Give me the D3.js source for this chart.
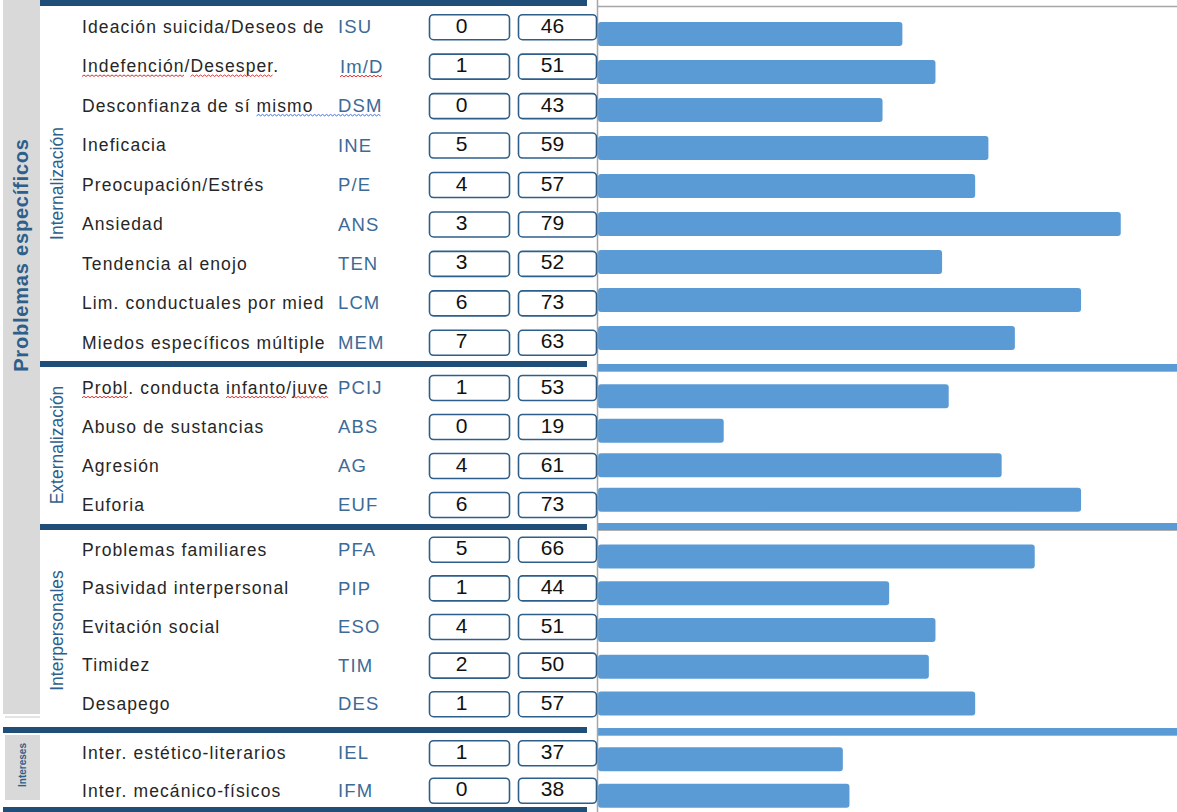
<!DOCTYPE html>
<html>
<head>
<meta charset="utf-8">
<script src="https://cdn.jsdelivr.net/npm/d3@7"></script>
<style>
  body { margin: 0; background: #fff; }
  svg { display: block; }
</style>
</head>
<body>
<script>
'use strict';

// ---- data ----
const groupNames = ["Internalización", "Externalización", "Interpersonales", "Intereses"];
const labels = [
  "Ideación suicida/Deseos de", "Indefención/Desesper.", "Desconfianza de sí mismo",
  "Ineficacia", "Preocupación/Estrés", "Ansiedad", "Tendencia al enojo",
  "Lim. conductuales por mied", "Miedos específicos múltiple",
  "Probl. conducta infanto/juve", "Abuso de sustancias", "Agresión", "Euforia",
  "Problemas familiares", "Pasividad interpersonal", "Evitación social", "Timidez", "Desapego",
  "Inter. estético-literarios", "Inter. mecánico-físicos"
];
const codes = ["ISU", "Im/D", "DSM", "INE", "P/E", "ANS", "TEN", "LCM", "MEM",
  "PCIJ", "ABS", "AG", "EUF", "PFA", "PIP", "ESO", "TIM", "DES", "IEL", "IFM"];
const groupOf = [0, 0, 0, 0, 0, 0, 0, 0, 0, 1, 1, 1, 1, 2, 2, 2, 2, 2, 3, 3];
const rawScores = [0, 1, 0, 5, 4, 3, 3, 6, 7, 1, 0, 4, 6, 5, 1, 4, 2, 1, 1, 0];
const tScores = [46, 51, 43, 59, 57, 79, 52, 73, 63, 53, 19, 61, 73, 66, 44, 51, 50, 57, 37, 38];

// ---- layout ----
const W = 1177, H = 812;
const darkBlue = "#1f4e79", barBlue = "#5b9bd5", codeBlue = "#3d6a96";
const labelTop = [6, 367, 529, 733], labelBottom = [361, 523, 722, 808];
const barTop = [15, 379, 538, 741], barBottom = [357, 517, 722, 814];
const sepY = [0, 361, 524, 727, 807];   // dark separator bars, left table
const bandY = [364, 523, 728];          // light separators, bar area
const x0 = 598;

const rows = labels.map((l, i) => ({
  label: l, code: codes[i], group: groupOf[i], raw: rawScores[i], t: tScores[i]
}));

const svg = d3.select('body').append('svg')
  .attr('width', W).attr('height', H);

// one band scale per group for the table and one for the bars
const yLab = groupNames.map((g, gi) => d3.scaleBand()
  .domain(rows.filter(r => r.group === gi).map(r => r.code))
  .range([labelTop[gi], labelBottom[gi]]));
const yBar = groupNames.map((g, gi) => d3.scaleBand()
  .domain(rows.filter(r => r.group === gi).map(r => r.code))
  .range([barTop[gi], barBottom[gi]]));
const cy = r => yLab[r.group](r.code) + yLab[r.group].bandwidth() / 2;
const by = r => yBar[r.group](r.code) + yBar[r.group].bandwidth() / 2;

const x = d3.scaleLinear().domain([0, 87.5]).range([x0, W]);

// grey side columns
svg.append('rect').attr('x', 3).attr('y', 0).attr('width', 37).attr('height', 714)
  .attr('fill', '#d9d9d9');
svg.append('line').attr('x1', 5).attr('x2', 40).attr('y1', 717).attr('y2', 717)
  .attr('stroke', '#c8c8c8');
svg.append('rect').attr('x', 5).attr('y', 735).attr('width', 35).attr('height', 65)
  .attr('fill', '#d9d9d9');

svg.append('text')
  .attr('transform', 'translate(28,255)rotate(-90)')
  .attr('text-anchor', 'middle')
  .style('font', 'bold 20px "Liberation Sans", Arial, sans-serif')
  .style('letter-spacing', '0.8px')
  .attr('fill', '#2e5f8a')
  .text('Problemas específicos');

svg.append('text')
  .attr('transform', 'translate(25.5,765)rotate(-90)')
  .attr('text-anchor', 'middle')
  .style('font', 'bold 10px "Liberation Sans", Arial, sans-serif')
  .attr('fill', '#2e5f8a')
  .text('Intereses');

// group titles (vertical)
groupNames.slice(0, 3).forEach((g, gi) => {
  const mid = (labelTop[gi] + labelBottom[gi]) / 2;
  svg.append('text')
    .attr('transform', `translate(63,${mid + (gi === 2 ? 5 : 0)})rotate(-90)`)
    .attr('text-anchor', 'middle')
    .style('font', '17.5px "Liberation Sans Narrow", "Arial Narrow", sans-serif')
    .attr('fill', '#2e5f8a')
    .text(g);
});

// dark separators on the left
sepY.forEach((y, i) => {
  const left = i < 3 ? 40 : 3;
  svg.append('rect').attr('x', left).attr('y', y).attr('width', 587 - left)
    .attr('height', i === 4 ? 5 : 6).attr('fill', darkBlue);
});

// bar-area frame lines
svg.append('line').attr('x1', x0).attr('x2', W).attr('y1', 6.5).attr('y2', 6.5)
  .attr('stroke', '#a6a6a6').attr('stroke-width', 1.5);
bandY.forEach(y => {
  svg.append('rect').attr('x', x0).attr('y', y).attr('width', W - x0).attr('height', 7)
    .attr('fill', barBlue);
  svg.append('line').attr('x1', x0).attr('x2', W).attr('y1', y + 7.5).attr('y2', y + 7.5)
    .attr('stroke', '#b0b0b0').attr('stroke-width', 1);
});

// bars
svg.selectAll('.bar').data(rows).enter().append('rect')
  .attr('class', 'bar')
  .attr('x', x(0))
  .attr('y', d => by(d) - 12)
  .attr('width', d => x(d.t) - x(0))
  .attr('height', 24)
  .attr('rx', 3)
  .attr('fill', barBlue);

// vertical axis line
svg.append('line').attr('x1', x0 - 0.5).attr('x2', x0 - 0.5).attr('y1', 0).attr('y2', H)
  .attr('stroke', '#a6a6a6').attr('stroke-width', 1.5);

// labels and codes
const labelText = svg.selectAll('.lab').data(rows).enter().append('text')
  .attr('class', 'lab')
  .attr('x', 82).attr('y', d => cy(d) + 1).attr('dy', '0.36em')
  .style('font', '17.5px "Liberation Sans", Arial, sans-serif')
  .style('letter-spacing', '1.1px')
  .attr('fill', '#262626')
  .text(d => d.label);

const codeText = svg.selectAll('.code').data(rows).enter().append('text')
  .attr('class', 'code')
  .attr('x', d => d.code === 'Im/D' ? 340 : 338).attr('y', d => cy(d) + 1).attr('dy', '0.36em')
  .style('font', '18.5px "Liberation Sans", Arial, sans-serif')
  .style('letter-spacing', '1.1px')
  .attr('fill', codeBlue)
  .text(d => d.code);

// score boxes
const boxes = [{ key: 'raw', x: 429.5, w: 80, shift: -8 }, { key: 't', x: 518.5, w: 78, shift: -5 }];
boxes.forEach(b => {
  svg.selectAll('.box-' + b.key).data(rows).enter().append('rect')
    .attr('x', b.x).attr('y', d => cy(d) - 11).attr('width', b.w).attr('height', 25)
    .attr('rx', 4)
    .attr('fill', '#fff').attr('stroke', '#2e5f8a').attr('stroke-width', 1.6);
  svg.selectAll('.num-' + b.key).data(rows).enter().append('text')
    .attr('x', b.x + b.w / 2 + b.shift).attr('y', d => cy(d) - 0.5).attr('dy', '0.36em')
    .attr('text-anchor', 'middle')
    .style('font', '21px "Liberation Sans", Arial, sans-serif')
    .attr('fill', '#111')
    .text(d => d[b.key]);
});

// spell-check squiggles, as in the screenshot
function squiggle(x1, x2, y, color) {
  let p = `M${x1},${y}`;
  let up = true;
  for (let xx = x1 + 2; xx <= x2; xx += 2) {
    p += `L${xx},${y + (up ? -1.5 : 0)}`;
    up = !up;
  }
  svg.append('path').attr('d', p).attr('fill', 'none')
    .attr('stroke', color).attr('stroke-width', 1);
}
function spanOf(node, word) {
  const s = node.textContent.indexOf(word);
  const bb = node.getBBox();
  const a = node.getStartPositionOfChar(s).x;
  const e = node.getEndPositionOfChar(s + word.length - 1).x;
  return [a, e, bb.y + bb.height];
}
const marks = [
  { i: 1, words: ['Indefención', 'Desesper'], code: true, color: '#e03030' },
  { i: 9, words: ['Probl', 'infanto', 'juve'], code: false, color: '#e03030' }
];
marks.forEach(m => {
  const node = labelText.nodes()[m.i];
  m.words.forEach(w => {
    const [a, e, yy] = spanOf(node, w);
    squiggle(a, e, yy, m.color);
  });
  if (m.code) {
    const cn = codeText.nodes()[m.i];
    const [a, e, yy] = spanOf(cn, cn.textContent);
    squiggle(a, e, yy, m.color);
  }
});
{
  const node = labelText.nodes()[2];
  const [a, , yy] = spanOf(node, 'mismo');
  const cn = codeText.nodes()[2];
  const [, e] = spanOf(cn, 'DSM');
  squiggle(a, e, yy, '#4a6fd8');
}
</script>
</body>
</html>
